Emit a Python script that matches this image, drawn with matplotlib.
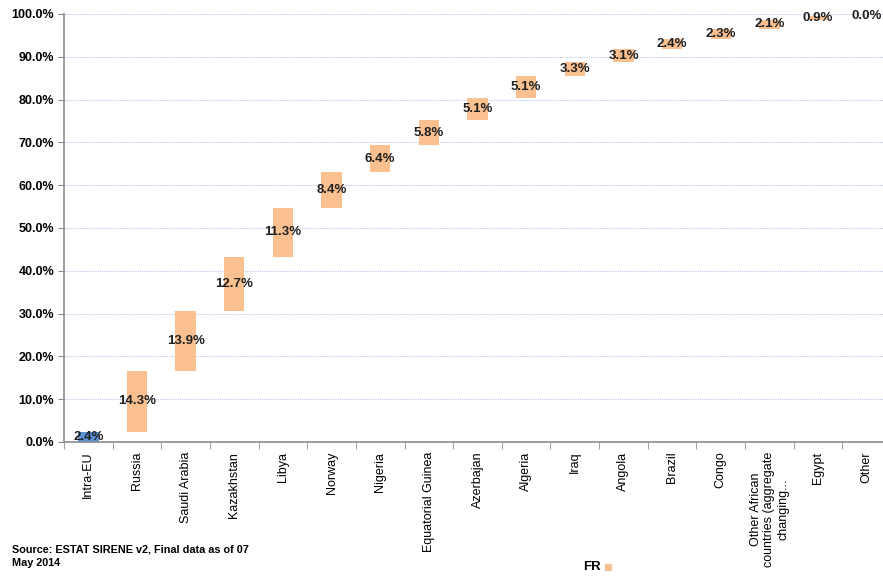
import numpy as np
import matplotlib
matplotlib.use("Agg")
import matplotlib.pyplot as plt
from matplotlib.ticker import PercentFormatter

plt.rcParams['font.family'] = ['Liberation Sans', 'DejaVu Sans']

countries = ['Intra-EU', 'Russia', 'Saudi Arabia', 'Kazakhstan', 'Libya', 'Norway',
             'Nigeria', 'Equatorial Guinea', 'Azerbajan', 'Algeria', 'Iraq', 'Angola',
             'Brazil', 'Congo', 'Other African\ncountries (aggregate\nchanging...',
             'Egypt', 'Other']
shares = [2.4, 14.3, 13.9, 12.7, 11.3, 8.4, 6.4, 5.8, 5.1, 5.1, 3.3, 3.1,
          2.4, 2.3, 2.1, 0.9, 0.0]

vals = np.array(shares)
bottoms = np.concatenate([[0], np.cumsum(vals)[:-1]])
x = np.arange(len(countries))

fig = plt.figure(figsize=(8.83, 5.77), dpi=100)
ax = fig.add_axes([64 / 883, 1 - 442 / 577, (891 - 64) / 883, (442 - 14) / 577])

colors = ['#5B93D6'] + ['#FAC090'] * (len(countries) - 1)
ax.bar(x, vals, bottom=bottoms, width=0.42, color=colors, zorder=2)

for xi, b, v in zip(x, bottoms, vals):
    ax.text(xi, b + v / 2, f"{v:.1f}%", ha='center', va='center',
            fontsize=9.5, fontweight='bold', color='#1f1f1f', zorder=3)

ax.set_xlim(-0.5, len(countries) - 0.5)
ax.set_ylim(0, 100)
ax.set_yticks(np.arange(0, 101, 10))
ax.yaxis.set_major_formatter(PercentFormatter(decimals=1))
ax.grid(axis='y', color='#b8c8e8', linestyle=(0, (1, 1)), linewidth=0.8, zorder=0)

ax.set_xticks(x)
ax.set_xticklabels(countries, rotation=90, fontsize=9, va='top', ha='center',
                   multialignment='center')
ax.set_xticks(np.arange(-0.5, len(countries), 1), minor=True)
ax.tick_params(axis='x', which='major', length=0, pad=7)
ax.tick_params(axis='x', which='minor', length=5, color='#8c8c8c', direction='out')
ax.tick_params(axis='y', length=4, color='#8c8c8c', labelsize=9, pad=3)
for lab in ax.get_yticklabels():
    lab.set_fontweight('bold')

for s in ['top', 'right']:
    ax.spines[s].set_visible(False)
for s in ['left', 'bottom']:
    ax.spines[s].set_color('#8c8c8c')
    ax.spines[s].set_linewidth(1.2)

fig.text(12 / 883, 1 - 556 / 577, "Source: ESTAT SIRENE v2, Final data as of 07\nMay 2014",
         fontsize=7.8, fontweight='bold', va='center', ha='left', linespacing=1.4)
fig.text(583 / 883, 1 - 567 / 577, "FR", fontsize=9.5, fontweight='bold', va='center', ha='left')
fig.patches.append(plt.Rectangle((605 / 883, 1 - 570 / 577), 6 / 883, 6 / 577,
                                 transform=fig.transFigure, color='#FAC090'))

fig.savefig('out.png', dpi=100)
